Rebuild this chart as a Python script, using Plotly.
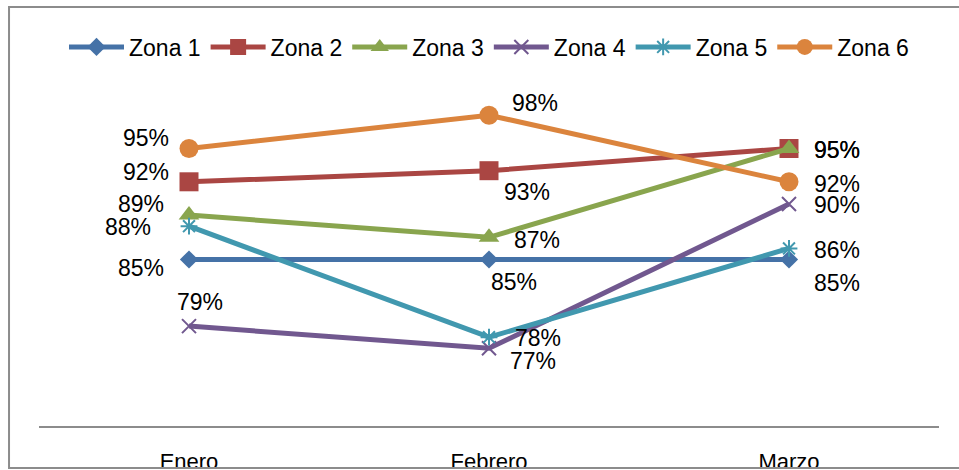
import plotly.graph_objects as go

months = ["Enero", "Febrero", "Marzo"]
series_names = ["Zona 1", "Zona 2", "Zona 3", "Zona 4", "Zona 5", "Zona 6"]
zona1 = [85, 85, 85]
zona2 = [92, 93, 95]
zona3 = [89, 87, 95]
zona4 = [79, 77, 90]
zona5 = [88, 78, 86]
zona6 = [95, 98, 92]
values = [zona1, zona2, zona3, zona4, zona5, zona6]

colors = ["#4572A7", "#AA4643", "#89A54E", "#71588F", "#4198AF", "#DB843D"]
symbols = ["diamond", "square", "triangle-up", "x-thin", "asterisk-open", "circle"]
msizes = [14, 19, 18, 14, 14, 19]

# label offsets in pixels (dx right, dy down) per series per month
label_offsets = [
    [(-48, 8), (25, 22), (48, 23)],
    [(-43, -10), (38, 21), (48, 1)],
    [(-48, -11), (48, 3), (48, 1)],
    [(11, -24), (44, 13), (48, 1)],
    [(-61, 1), (49, 1), (48, 2)],
    [(-43, -11), (46, -12), (48, 2)],
]

FONT = "Liberation Sans, Arial, sans-serif"

fig = go.Figure()
for name, vals, col, sym, ms in zip(series_names, values, colors, symbols, msizes):
    fig.add_trace(go.Scatter(
        x=months, y=vals, name=name, mode="lines+markers",
        line=dict(color=col, width=5),
        marker=dict(symbol=sym, size=ms, color=col,
                    line=dict(color=col, width=2 if sym in ("x-thin", "asterisk-open") else 0)),
        cliponaxis=False,
    ))

annotations = []
for vals, offs in zip(values, label_offsets):
    for m, v, (dx, dy) in zip(months, vals, offs):
        annotations.append(dict(
            x=m, y=v, xref="x", yref="y", text=f"{v}%", showarrow=False,
            xshift=dx, yshift=-dy, font=dict(family=FONT, size=23, color="#000000"),
        ))

shapes = [
    dict(type="rect", xref="paper", yref="paper", x0=-0.1, x1=1.1, y0=-0.3, y1=-0.1262,
         fillcolor="white", line=dict(width=0), layer="above"),
    dict(type="rect", xref="paper", yref="paper", x0=-0.0333, x1=1.03, y0=-0.1262, y1=1.258,
         fillcolor="rgba(0,0,0,0)", line=dict(color="#8C8C8C", width=2), layer="above"),
]

fig.update_layout(
    width=959, height=470,
    margin=dict(l=39, r=20, t=93, b=44),
    paper_bgcolor="white", plot_bgcolor="white",
    font=dict(family=FONT, size=23, color="#000000"),
    showlegend=True,
    legend=dict(orientation="h", xref="container", yref="container",
                x=64 / 959, xanchor="left", y=1 - 47 / 470, yanchor="middle",
                font=dict(family=FONT, size=23), itemwidth=55, tracegroupgap=0,
                bgcolor="rgba(0,0,0,0)"),
    xaxis=dict(type="category", range=[-0.5, 2.5], showgrid=False, zeroline=False,
               showline=True, linecolor="#8C8C8C", linewidth=2, ticks="",
               automargin=False,
               ticklabelstandoff=15, tickfont=dict(family=FONT, size=22)),
    yaxis=dict(range=[70, 100], showgrid=False, zeroline=False, showline=False,
               showticklabels=False, ticks="", automargin=False),
    annotations=annotations,
    shapes=shapes,
)

fig.write_html("out.html", config={"displayModeBar": False},
               post_script="document.body.style.margin='0';")
